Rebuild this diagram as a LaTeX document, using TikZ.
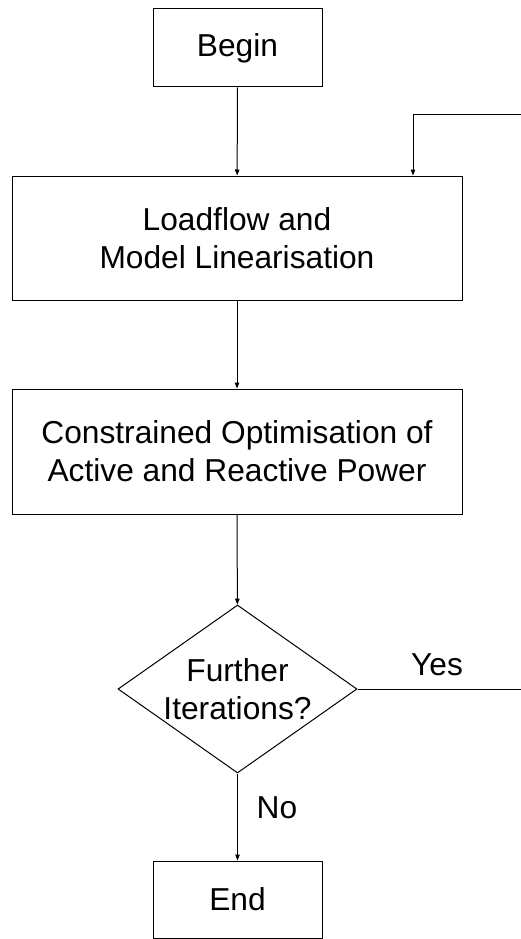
\documentclass[tikz,border=0pt]{standalone}
\usepackage{fontspec}
\setmainfont{Liberation Sans}
\usetikzlibrary{shapes.geometric,arrows.meta}
\begin{document}
\begin{tikzpicture}[x=1pt,y=-1pt,
  box/.style={draw, line width=1pt, inner sep=0pt, align=center, font=\fontsize{31.7}{38}\selectfont},
  conn/.style={draw, line width=1pt, -{Triangle[length=6pt,width=4.5pt]}},
  lbl/.style={inner sep=0pt, font=\fontsize{31.7}{38}\selectfont}]
\useasboundingbox (0,0) rectangle (520,939);
\node[box, minimum width=169pt, minimum height=78pt] (begin) at (237.5,48) {Begin};
\node[box, minimum width=450pt, minimum height=124pt] (load) at (237,238) {Loadflow and\\Model Linearisation};
\node[box, minimum width=450pt, minimum height=125pt] (opt) at (237,451.5) {Constrained Optimisation of\\Active and Reactive Power};
\node[draw, line width=1pt, diamond, minimum width=239pt, minimum height=168pt, inner sep=0pt] (dec) at (237.5,689) {};
\node[lbl, align=center] (dectext) at (dec.center) {Further\\Iterations?};
\node[box, minimum width=169pt, minimum height=77pt] (end) at (237.5,899.5) {End};
\node[lbl] (yes) at (437,665) {Yes};
\node[lbl] (no) at (277,808) {No};
\coordinate (r1) at (524,689);
\coordinate (r2) at (524,115);
\coordinate (r3) at (413,115);
\draw[conn] (begin) -- (load);
\draw[conn] (load) -- (opt);
\draw[conn] (opt) -- (dec);
\draw[conn] (dec) -- (end);
\draw[conn] (dec.east) -- (r1) -- (r2) -- (r3) -- (r3 |- load.north);
\end{tikzpicture}
\end{document}
